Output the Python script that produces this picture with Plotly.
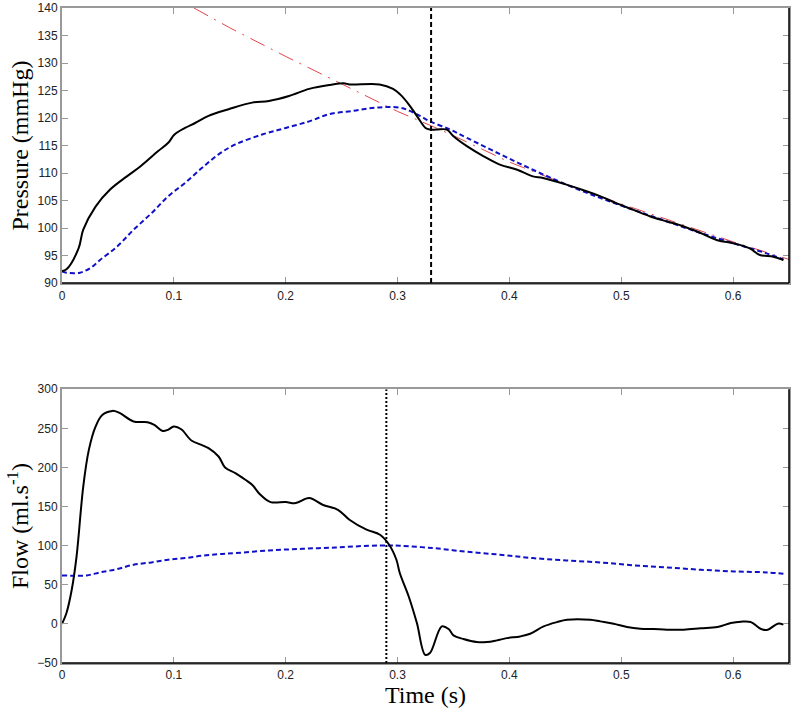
import plotly.graph_objects as go

# ---------------- data ----------------
t_p_meas = [0, 0.004, 0.0148, 0.019, 0.030, 0.043, 0.058, 0.070, 0.086, 0.095, 0.1006, 0.110,
            0.119, 0.131, 0.149, 0.170, 0.185, 0.203, 0.221, 0.239, 0.253, 0.257, 0.284,
            0.296, 0.3023, 0.310, 0.3174, 0.325, 0.329, 0.335, 0.344, 0.350, 0.362, 0.377,
            0.392, 0.407, 0.421, 0.430, 0.451, 0.469, 0.481, 0.496, 0.511, 0.526, 0.541,
            0.556, 0.571, 0.586, 0.601, 0.615, 0.624, 0.636, 0.645]
p_meas = [92.2, 92.5, 96.3, 99.7, 103.9, 107.0, 109.4, 111.2, 114.0, 115.5, 117.0, 118.2,
          119.1, 120.4, 121.6, 122.8, 123.1, 124.0, 125.3, 126.0, 126.3, 126.1, 126.1,
          125.3, 124.3, 122.5, 120.35, 118.2, 117.9, 117.9, 117.9, 116.7, 114.9, 113.05,
          111.5, 110.6, 109.4, 109.1, 107.9, 106.7, 105.8, 104.5, 103.3, 102.1, 101.2,
          100.3, 99.1, 97.8, 97.2, 96.3, 95.1, 94.8, 94.2]

t_p_model = [0, 0.004, 0.016, 0.025, 0.034, 0.049, 0.064, 0.080, 0.095, 0.110, 0.125, 0.140,
             0.155, 0.179, 0.200, 0.221, 0.239, 0.260, 0.281, 0.302, 0.311, 0.320, 0.329,
             0.347, 0.362, 0.392, 0.421, 0.451, 0.481, 0.511, 0.541, 0.571, 0.601, 0.630, 0.645]
p_model = [92.1, 91.9, 91.9, 92.7, 94.2, 96.6, 99.7, 102.7, 105.8, 108.2, 110.9, 113.4,
           115.2, 117.0, 118.2, 119.4, 120.7, 121.3, 121.9, 121.9, 121.3, 120.4, 119.4,
           117.9, 116.4, 113.4, 110.6, 107.9, 105.5, 103.3, 101.2, 99.1, 97.2, 95.4, 94.3]

t_p_fit = [0.118, 0.15, 0.2, 0.25, 0.3, 0.33, 0.35, 0.4, 0.45, 0.5, 0.55, 0.6, 0.65]
p_fit = [140.0, 136.4, 131.2, 126.2, 121.2, 118.6, 116.8, 112.0, 108.0, 104.4, 100.9, 97.5, 94.3]

t_q_meas = [0, 0.004, 0.0087, 0.013, 0.019, 0.024, 0.030, 0.036, 0.045, 0.051, 0.064, 0.0765,
            0.0825, 0.090, 0.0946, 0.100, 0.1066, 0.1157, 0.1247, 0.131, 0.140, 0.1458, 0.155,
            0.1639, 0.170, 0.1774, 0.1864, 0.200, 0.209, 0.221, 0.233, 0.2467, 0.257, 0.2723,
            0.2843, 0.2925, 0.299, 0.302, 0.310, 0.3173, 0.3247, 0.329, 0.3396, 0.3457, 0.350,
            0.3589, 0.3709, 0.3798, 0.3888, 0.3977, 0.4097, 0.4186, 0.4306, 0.4425, 0.4515,
            0.4724, 0.4813, 0.4932, 0.5052, 0.5171, 0.529, 0.541, 0.556, 0.571, 0.586, 0.598,
            0.607, 0.616, 0.625, 0.631, 0.640, 0.645]
q_meas = [0, 13.9, 43.6, 86, 175.6, 222.4, 252.2, 267, 272.3, 270, 258.7, 257.8,
          254.4, 246.7, 248, 252.2, 248.8, 234.4, 228.8, 224.6, 214, 200, 192.7,
          184.2, 177.8, 165, 155.7, 155.7, 154.4, 160.8, 152.3, 145.9, 133.2, 120.4,
          114, 101.2, 82, 65, 35, 1, -39.5, -37.2, -3.2, -6.6, -14.7,
          -19.4, -23.3, -23.3, -21.1, -18.2, -16, -12.6, -3.2, 2.3, 5.3,
          5.3, 3.2, 0.3, -4, -6.2, -6.6, -7.4, -7.4, -5.7, -4, 1.1,
          2.8, 2.3, -6.6, -7.4, 0.3, -1]

t_q_model = [0, 0.010, 0.022, 0.034, 0.049, 0.064, 0.080, 0.095, 0.110, 0.125, 0.140, 0.155,
             0.185, 0.215, 0.245, 0.275, 0.2925, 0.302, 0.332, 0.362, 0.392, 0.421, 0.451,
             0.481, 0.511, 0.541, 0.571, 0.601, 0.630, 0.645]
q_model = [62, 61.6, 62, 65.8, 70, 75.6, 78.6, 82, 84.1, 87.1, 89.2, 90.5,
           93.9, 96, 97.7, 99.9, 100.3, 99.9, 96.9, 92.2, 88.4, 84.1, 81.1,
           78.6, 74.8, 72.2, 69.2, 67.1, 65.8, 64.1]

t_marker_p = 0.33
t_marker_q = 0.29

x_ticks = [0, 0.1, 0.2, 0.3, 0.4, 0.5, 0.6]
p_ticks = [90, 95, 100, 105, 110, 115, 120, 125, 130, 135, 140]
q_ticks = [-50, 0, 50, 100, 150, 200, 250, 300]
x_range = [0, 0.65]
p_range = [90, 140]
q_range = [-50, 300]

# ---------------- figure ----------------
fig = go.Figure()

# top panel
fig.add_trace(go.Scatter(x=t_p_fit, y=p_fit, mode="lines", xaxis="x", yaxis="y",
                         line=dict(color="#e0474c", width=1, dash="16px,7px,2px,7px")))
fig.add_trace(go.Scatter(x=t_p_model, y=p_model, mode="lines", xaxis="x", yaxis="y",
                         line=dict(color="#1010c8", width=2, dash="5px,3px"),
                         line_shape="spline"))
fig.add_trace(go.Scatter(x=t_p_meas, y=p_meas, mode="lines", xaxis="x", yaxis="y",
                         line=dict(color="black", width=2), line_shape="spline"))
fig.add_trace(go.Scatter(x=[t_marker_p, t_marker_p], y=p_range, mode="lines", xaxis="x", yaxis="y",
                         line=dict(color="black", width=2, dash="5px,3px")))

# bottom panel
fig.add_trace(go.Scatter(x=t_q_model, y=q_model, mode="lines", xaxis="x2", yaxis="y2",
                         line=dict(color="#1010c8", width=2, dash="5px,3px"),
                         line_shape="spline"))
fig.add_trace(go.Scatter(x=t_q_meas, y=q_meas, mode="lines", xaxis="x2", yaxis="y2",
                         line=dict(color="black", width=2), line_shape="spline"))
fig.add_trace(go.Scatter(x=[t_marker_q, t_marker_q], y=q_range, mode="lines", xaxis="x2", yaxis="y2",
                         line=dict(color="black", width=2, dash="2px,2px")))

tickfont = dict(family="Liberation Sans, Arial", size=12, color="#222222")
titlefont = dict(family="Liberation Serif, Times New Roman", size=24, color="black")

common_axis = dict(showline=True, linecolor="#999999", linewidth=2, mirror="ticks",
                   ticks="inside", ticklen=6, tickcolor="#999999", tickwidth=1,
                   showgrid=False, zeroline=False, tickfont=tickfont, automargin=False)

fig.update_layout(
    width=795, height=711,
    margin=dict(l=62, r=6, t=8, b=48),
    paper_bgcolor="white", plot_bgcolor="white",
    showlegend=False,
    xaxis=dict(domain=[0, 1], range=x_range, tickvals=x_ticks, anchor="y", **common_axis),
    yaxis=dict(domain=[0.58, 1], range=p_range, tickvals=p_ticks, anchor="x",
               title=dict(text="Pressure (mmHg)", font=titlefont, standoff=2), **common_axis),
    xaxis2=dict(domain=[0, 1], range=x_range, tickvals=x_ticks, anchor="y2",
                title=dict(text="Time (s)", font=titlefont, standoff=2), **common_axis),
    yaxis2=dict(domain=[0, 0.418], range=q_range, tickvals=q_ticks, anchor="x2",
                title=dict(text="Flow (ml.s<sup>-1</sup>)", font=titlefont, standoff=2), **common_axis),
)

# black bottom and right frame edges (as in the reference)
for xd, yd in (("x domain", "y domain"), ("x2 domain", "y2 domain")):
    fig.add_shape(type="line", xref=xd, yref=yd, x0=0, x1=1, y0=0, y1=0,
                  line=dict(color="black", width=1.5))
    fig.add_shape(type="line", xref=xd, yref=yd, x0=1, x1=1, y0=0, y1=1,
                  line=dict(color="black", width=1.5))

fig.write_html("out.html",
               config={"displayModeBar": False},
               post_script="document.body.style.margin='0';document.body.style.overflow='hidden';")
